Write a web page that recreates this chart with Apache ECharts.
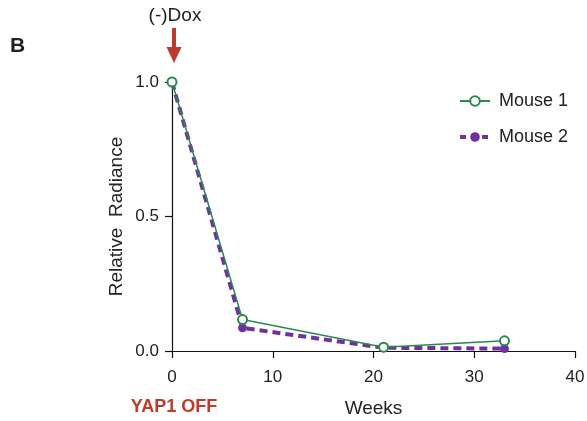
<!DOCTYPE html>
<html>
<head>
<meta charset="utf-8">
<script src="https://cdn.jsdelivr.net/npm/echarts@6/dist/echarts.min.js"></script>
<style>
html, body { margin: 0; padding: 0; background: #fff; }
#chart { width: 587px; height: 421px; }
</style>
</head>
<body>
<div id="chart"></div>
<script>
// data
var weeks = [0, 7, 21, 33];
var mouse1 = [1.0, 0.117, 0.014, 0.038];
var mouse2 = [1.0, 0.086, 0.012, 0.009];
var xTicks = [0, 10, 20, 30, 40];
var yTicks = [0, 0.5, 1.0];

function pairs(xs, ys) {
    return xs.map(function (x, i) { return [x, ys[i]]; });
}

var red = '#c0392b';
var green = '#2a8a4e';
var purple = '#7030a0';
var font = 'Liberation Sans, Arial, sans-serif';

var chart = echarts.init(document.getElementById('chart'));

var option = {
    backgroundColor: '#fff',
    animation: false,
    textStyle: { fontFamily: font },
    grid: { left: 172, right: 12, top: 82, bottom: 70, containLabel: false, outerBoundsMode: 'none' },
    legend: {
        orient: 'vertical',
        left: 453,
        top: 87,
        itemWidth: 30,
        itemHeight: 12,
        itemGap: 18,
        textStyle: { fontSize: 18, color: '#222', fontFamily: font, padding: [0, 0, 0, 4] },
        data: [
            { name: 'Mouse 1' },
            { name: 'Mouse 2', lineStyle: { width: 4, type: [6, 5] } }
        ]
    },
    xAxis: {
        type: 'value',
        min: xTicks[0],
        max: xTicks[xTicks.length - 1],
        interval: 10,
        name: 'Weeks',
        nameLocation: 'middle',
        nameGap: 48,
        nameTextStyle: { fontSize: 19, color: '#222' },
        axisLine: { show: true, onZero: false, lineStyle: { color: '#111', width: 1.2 } },
        axisTick: { show: true, length: 7, lineStyle: { color: '#111', width: 1.2 } },
        axisLabel: { fontSize: 17, color: '#222', margin: 18 },
        splitLine: { show: false }
    },
    yAxis: {
        type: 'value',
        min: yTicks[0],
        max: yTicks[yTicks.length - 1],
        interval: 0.5,
        name: 'Relative  Radiance',
        nameLocation: 'middle',
        nameGap: 46,
        nameMoveOverlap: false,
        nameTextStyle: { fontSize: 19, color: '#222' },
        axisLine: { show: true, lineStyle: { color: '#111', width: 1.2 } },
        axisTick: { show: true, length: 7, lineStyle: { color: '#111', width: 1.2 } },
        axisLabel: {
            fontSize: 17, color: '#222', margin: 13,
            formatter: function (v) { return v.toFixed(1); }
        },
        splitLine: { show: false }
    },
    series: [{
        name: 'Mouse 2',
        type: 'line',
        z: 2,
        data: pairs(weeks, mouse2),
        symbol: 'circle',
        symbolSize: 9,
        itemStyle: { color: purple },
        lineStyle: { color: purple, width: 4, type: [8, 5] }
    }, {
        name: 'Mouse 1',
        type: 'line',
        z: 3,
        data: pairs(weeks, mouse1),
        symbol: 'emptyCircle',
        symbolSize: 9,
        itemStyle: { color: green, borderColor: green, borderWidth: 1.5 },
        lineStyle: { color: green, width: 1.5 }
    }],
    graphic: [{
        type: 'text', left: 10, top: 36,
        style: { text: 'B', font: 'bold 21px ' + font, fill: '#222' }
    }, {
        type: 'text', x: 175, y: 16,
        style: { text: '(-)Dox', font: '19px ' + font, fill: '#222', align: 'center', verticalAlign: 'middle' }
    }, {
        type: 'rect',
        shape: { x: 172, y: 28, width: 4, height: 20 },
        style: { fill: red }
    }, {
        type: 'polygon',
        shape: { points: [[166.5, 47], [181.5, 47], [174, 63]] },
        style: { fill: red }
    }, {
        type: 'text', x: 174, y: 407,
        style: { text: 'YAP1 OFF', font: 'bold 18px ' + font, fill: red, align: 'center', verticalAlign: 'middle' }
    }]
};

chart.setOption(option);
</script>
</body>
</html>
